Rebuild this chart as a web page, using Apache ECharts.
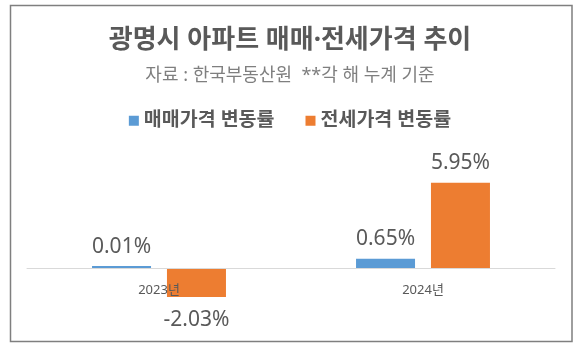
<!DOCTYPE html>
<html>
<head>
<meta charset="UTF-8">
<title>광명시 아파트 매매·전세가격 추이</title>
<script type="text/javascript" src="https://cdn.jsdelivr.net/npm/echarts@6/dist/echarts.min.js"></script>
<style>
	html, body { margin: 0; padding: 0; background: #fff; }
</style>
</head>
<body>
	<div id="main" style="width: 580px;height:353px;"></div>
</body>
<script type="text/javascript">
	// 데이터
	var years = ['2023년', '2024년'];
	var saleRate = [0.01, 0.65];    // 매매가격 변동률 (%)
	var jeonseRate = [-2.03, 5.95]; // 전세가격 변동률 (%)
	var seriesNames = ['매매가격 변동률', '전세가격 변동률'];

	var font = '"Noto Sans", "Noto Sans CJK KR", sans-serif';

	function toItems(arr) {
		return arr.map(function (v) {
			return {
				value: v,
				label: { position: v < 0 ? 'bottom' : 'top', distance: v < 0 ? 12 : 9 }
			};
		});
	}

	var labelStyle = {
		show: true,
		fontFamily: font,
		fontSize: 21,
		color: '#595959',
		formatter: function (p) { return p.value.toFixed(2) + '%'; }
	};

	var myChart = echarts.init(document.getElementById('main'));

	var option = {
		backgroundColor: '#fff',
		animation: false,
		graphic: [{
			type: 'rect',
			shape: { x: 10.5, y: 5.5, width: 561.5, height: 336 },
			style: { fill: 'none', stroke: '#7f7f7f', lineWidth: 1.5 },
			z: 0
		}],
		title: {
			text: '광명시 아파트 매매·전세가격 추이',
			subtext: '자료 : 한국부동산원  **각 해 누계 기준',
			left: 'center',
			top: 21,
			itemGap: 9,
			textStyle: {
				fontFamily: font,
				fontSize: 26,
				fontWeight: 'bold',
				color: '#595959',
				lineHeight: 30
			},
			subtextStyle: {
				fontFamily: font,
				fontSize: 18,
				color: '#7f7f7f',
				lineHeight: 22
			}
		},
		legend: {
			top: 106,
			left: 'center',
			itemWidth: 10,
			itemHeight: 10,
			itemGap: 31,
			icon: 'rect',
			data: seriesNames,
			textStyle: {
				fontFamily: font,
				fontSize: 19.5,
				fontWeight: 'bold',
				color: '#595959'
			}
		},
		grid: {
			left: 27,
			right: 25,
			top: 175,
			height: 136,
			containLabel: false
		},
		xAxis: {
			type: 'category',
			data: years,
			z: 5,
			axisLine: { onZero: true, lineStyle: { color: '#d9d9d9', width: 1 } },
			axisTick: { show: false },
			axisLabel: {
				fontFamily: font,
				fontSize: 13,
				color: '#595959',
				// 라벨을 0 기준선 바로 아래로 끌어올림
				margin: -27
			}
		},
		yAxis: {
			type: 'value',
			min: -3,
			max: 6.5,
			show: false,
			splitLine: { show: false }
		},
		series: [{
			name: seriesNames[0],
			type: 'bar',
			barWidth: 59,
			barGap: '27%',
			barMinHeight: 2,
			itemStyle: { color: '#5b9bd5' },
			label: labelStyle,
			data: toItems(saleRate)
		}, {
			name: seriesNames[1],
			type: 'bar',
			barWidth: 59,
			barGap: '27%',
			itemStyle: { color: '#ed7d31' },
			label: labelStyle,
			data: toItems(jeonseRate)
		}]
	};
	myChart.setOption(option);
</script>
</html>
